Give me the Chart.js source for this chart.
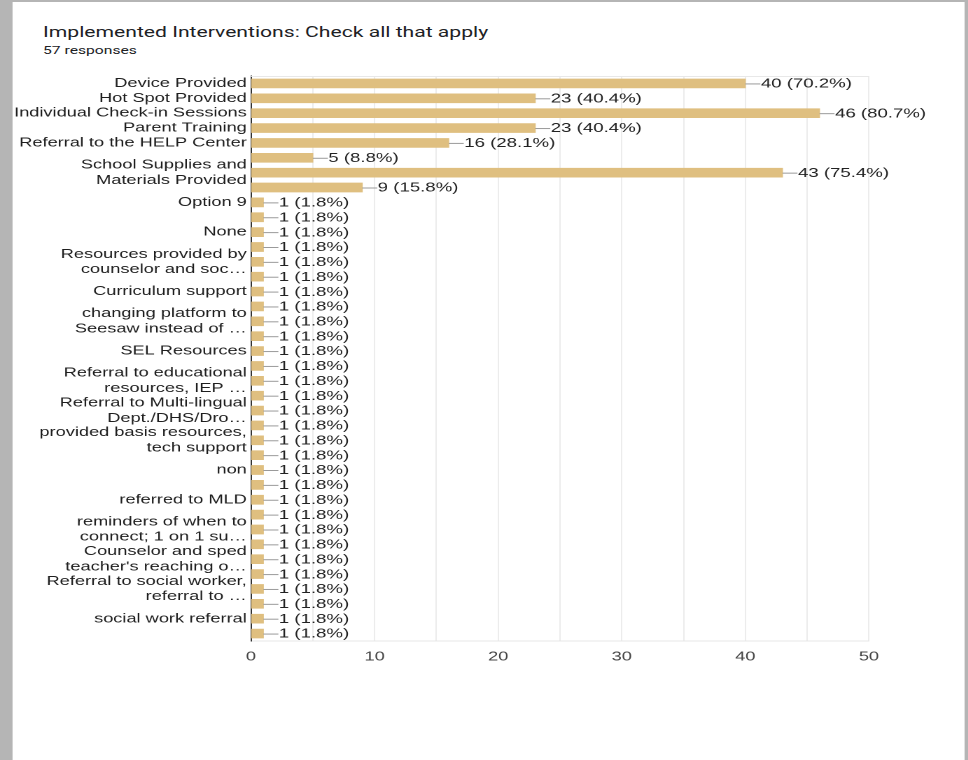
<!DOCTYPE html>
<html>
<head>
<meta charset="utf-8">
<script src="https://cdn.jsdelivr.net/npm/chart.js@4.4.1/dist/chart.umd.min.js"></script>
<style>
  :root { --k: 1.4; }
  html, body { margin: 0; padding: 0; }
  body { width: 968px; height: 760px; background: #b5b5b5; overflow: hidden; position: relative; }
  #stage {
    position: absolute; left: 0; top: 0;
    width: calc(968px / var(--k)); height: 760px;
    transform: scaleX(var(--k)); transform-origin: 0 0;
  }
  #panel {
    position: absolute; left: calc(12px / var(--k)); top: 2px;
    width: calc(953px / var(--k)); height: 758px; background: #fff;
  }
  #title {
    position: absolute; left: calc(43px / var(--k)); top: 23px;
    font-family: Roboto, "Open Sans", sans-serif; font-size: 15.1px; color: #202124;
    white-space: nowrap;
  }
  #sub {
    position: absolute; left: calc(43px / var(--k)); top: 44px;
    font-family: Roboto, "Open Sans", sans-serif; font-size: 11.2px; color: #202124;
    white-space: nowrap;
  }
  #wrap { position: absolute; left: 0; top: 0; width: calc(968px / var(--k)); height: 760px; }
</style>
</head>
<body>
<div id="stage">
  <div id="panel"></div>
  <div id="title">Implemented Interventions: Check all that apply</div>
  <div id="sub">57 responses</div>
  <div id="wrap"><canvas id="chart"></canvas></div>
</div>
<script>
// Answer options (long answers are cut the same way the form summary cuts them)
const categories = [
  'Device Provided',
  'Hot Spot Provided',
  'Individual Check-in Sessions',
  'Parent Training',
  'Referral to the HELP Center',
  '',
  ['School Supplies and', 'Materials Provided'],
  '',
  'Option 9',
  '',
  'None',
  '',
  ['Resources provided by', 'counselor and soc…'],
  '',
  'Curriculum support',
  '',
  ['changing platform to', 'Seesaw instead of …'],
  '',
  'SEL Resources',
  '',
  ['Referral to educational', 'resources, IEP …'],
  '',
  ['Referral to Multi-lingual', 'Dept./DHS/Dro…'],
  '',
  ['provided basis resources,', 'tech support'],
  '',
  'non',
  '',
  'referred to MLD',
  '',
  ['reminders of when to', 'connect; 1 on 1 su…'],
  '',
  ['Counselor and sped', "teacher's reaching o…"],
  '',
  ['Referral to social worker,', 'referral to …'],
  '',
  'social work referral',
  ''
];

// Number of respondents who checked each option
const counts = [
  40, 23, 46, 23, 16, 5, 43, 9,
  1, 1, 1, 1, 1, 1, 1, 1, 1, 1,
  1, 1, 1, 1, 1, 1, 1, 1, 1, 1,
  1, 1, 1, 1, 1, 1, 1, 1, 1, 1
];

const totalResponses = 57;
const xTicks = [0, 10, 20, 30, 40, 50];

const K = parseFloat(getComputedStyle(document.documentElement).getPropertyValue('--k'));
const FONT = '"Liberation Sans", Arial, Helvetica, sans-serif';

// Leader line + "n (p%)" label next to each bar, plus the light frame line on top
const valueLabels = {
  id: 'valueLabels',
  afterDatasetsDraw(chart) {
    const ctx = chart.ctx;
    const area = chart.chartArea;
    ctx.save();
    ctx.strokeStyle = '#e8e8e8';
    ctx.lineWidth = 1;
    ctx.beginPath();
    ctx.moveTo(area.left, area.top + 0.5);
    ctx.lineTo(area.right, area.top + 0.5);
    ctx.stroke();

    const meta = chart.getDatasetMeta(0);
    ctx.font = '13.3px ' + FONT;
    ctx.fillStyle = '#222';
    ctx.textBaseline = 'middle';
    ctx.textAlign = 'left';
    meta.data.forEach((bar, i) => {
      const v = counts[i];
      const pct = (v / totalResponses * 100).toFixed(1);
      ctx.strokeStyle = '#9a9a9a';
      ctx.lineWidth = 1;
      ctx.beginPath();
      ctx.moveTo(bar.x, bar.y + 0.5);
      ctx.lineTo(bar.x + 15 / K, bar.y + 0.5);
      ctx.stroke();
      ctx.fillText(v + ' (' + pct + '%)', bar.x + 15.5 / K, bar.y + 0.5);
    });
    ctx.restore();
  }
};

new Chart(document.getElementById('chart'), {
  type: 'bar',
  data: {
    labels: categories,
    datasets: [{
      data: counts,
      backgroundColor: '#dfbf80',
      borderWidth: 0,
      barThickness: 9
    }]
  },
  options: {
    indexAxis: 'y',
    responsive: true,
    maintainAspectRatio: false,
    animation: false,
    devicePixelRatio: 2,
    layout: { padding: { left: 0, right: (968 - 869) / K, top: 76, bottom: 89 } },
    plugins: { legend: { display: false }, tooltip: { enabled: false } },
    scales: {
      x: {
        min: 0, max: 50,
        afterFit(scale) { scale.height = 30; },
        afterBuildTicks(scale) {
          const t = [];
          for (let v = 0; v <= 50; v += 5) t.push({ value: v });
          scale.ticks = t;
        },
        ticks: {
          autoSkip: false,
          maxRotation: 0,
          padding: 8,
          color: '#444',
          font: { family: FONT, size: 13 },
          callback: (v) => xTicks.includes(v) ? String(v) : ''
        },
        grid: { color: '#ececec', lineWidth: 1, drawTicks: false },
        border: { display: true, color: '#e6e6e6' }
      },
      y: {
        afterFit(scale) { scale.width = 251 / K; },
        ticks: {
          autoSkip: false,
          padding: 3,
          color: '#1e1e1e',
          font: { family: FONT, size: 13, lineHeight: 1.18 }
        },
        grid: { display: false, drawTicks: false },
        border: { display: true, color: '#333', width: 1 }
      }
    }
  },
  plugins: [valueLabels]
});
</script>
</body>
</html>
